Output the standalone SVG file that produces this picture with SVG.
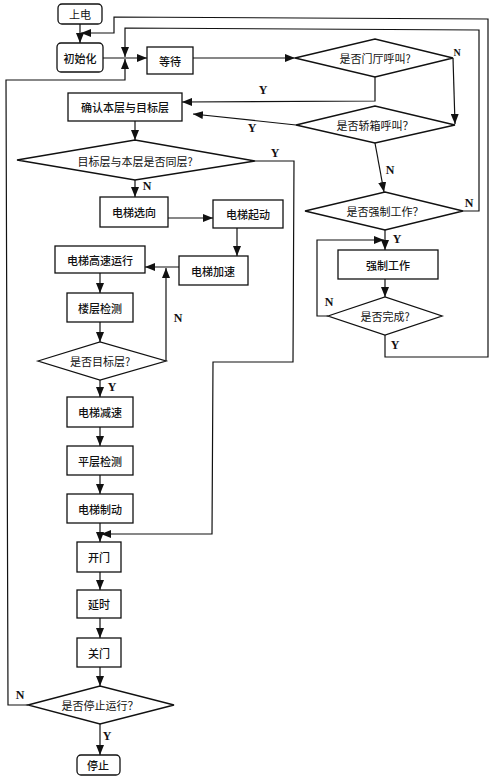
<svg xmlns="http://www.w3.org/2000/svg" width="492" height="780" viewBox="0 0 492 780">
<defs>
<marker id="ah" markerUnits="userSpaceOnUse" markerWidth="10" markerHeight="8" refX="10" refY="4" orient="auto">
<path d="M0,0 L10,4 L0,8 z" fill="#111"/>
</marker>
<style>
.box{fill:#fff;stroke:#111;stroke-width:1.3}
.t{font-family:"Noto Sans CJK SC","Noto Sans",sans-serif;font-size:11px;fill:#111;text-anchor:middle;dominant-baseline:central}
.b{font-weight:500}
.l{font-family:"Liberation Serif",serif;font-size:12px;font-weight:bold;fill:#111;text-anchor:middle;dominant-baseline:central}
.c{fill:none;stroke:#111;stroke-width:1.2}
.c.a{marker-end:url(#ah)}
</style>
</defs>
<rect width="492" height="780" fill="#fff"/>
<g id="connectors">
<path class="c a" d="M80,24 L80,43"/>
<path class="c a" d="M385,335 L385,357 L488,357 L488,19 L114,17 L114,33 L81,33"/>
<path class="c a" d="M103,58 L147,58"/>
<path class="c a" d="M463,211 L479,211 L479,30 L125,28 L125,57"/>
<path class="c a" d="M28,705 L8,705 L6,80 L125,80 L125,59"/>
<path class="c a" d="M193,58 L295,58"/>
<path class="c a" d="M453,58 L455,124"/>
<path class="c a" d="M375,77 L375,101 L182,102"/>
<path class="c a" d="M296,125 L193,114"/>
<path class="c a" d="M375,143 L384,192"/>
<path class="c a" d="M135,121 L135,140"/>
<path class="c a" d="M255,161 L294,161 L293,362 L213,362 L212,534 L101,534"/>
<path class="c a" d="M135,180 L135,197"/>
<path class="c a" d="M168,218 L213,218"/>
<path class="c a" d="M237,228 L237,256"/>
<path class="c a" d="M179,267 L145,267"/>
<path class="c a" d="M100,273 L100,293"/>
<path class="c a" d="M100,322 L100,342"/>
<path class="c a" d="M166,361 L166,268"/>
<path class="c a" d="M100,380 L100,397"/>
<path class="c a" d="M100,427 L100,446"/>
<path class="c a" d="M100,475 L100,494"/>
<path class="c a" d="M100,523 L100,542"/>
<path class="c a" d="M100,572 L100,590"/>
<path class="c a" d="M100,618 L100,638"/>
<path class="c a" d="M100,667 L100,686"/>
<path class="c a" d="M100,724 L100,755"/>
<path class="c a" d="M385,230 L385,250"/>
<path class="c a" d="M385,279 L385,297"/>
<path class="c a" d="M328,316 L317,316 L317,240 L384,240"/>
<text class="l" x="457" y="52" style="font-size:10px">N</text>
<text class="l" x="263" y="90">Y</text>
<text class="l" x="252" y="128">Y</text>
<text class="l" x="390" y="170">N</text>
<text class="l" x="275" y="153">Y</text>
<text class="l" x="147" y="186">N</text>
<text class="l" x="178" y="318">N</text>
<text class="l" x="112" y="387">Y</text>
<text class="l" x="20" y="695">N</text>
<text class="l" x="107" y="736">Y</text>
<text class="l" x="469" y="203">N</text>
<text class="l" x="397" y="239">Y</text>
<text class="l" x="329" y="302">N</text>
<text class="l" x="395" y="345">Y</text>
</g>
<g id="n_power"><rect class="box" x="58" y="4" width="44" height="20" rx="4"/><text class="t" x="80" y="14">上电</text></g>
<g id="n_init"><rect class="box" x="57" y="43" width="46" height="29" rx="4"/><text class="t b" x="80" y="58">初始化</text></g>
<g id="n_wait"><rect class="box" x="147" y="47" width="46" height="27"/><text class="t b" x="170" y="61">等待</text></g>
<g id="d_hall"><polygon class="box" points="295,58 375,39 453,58 375,77"/><text class="t" x="375" y="58">是否门厅呼叫?</text></g>
<g id="d_car"><polygon class="box" points="296,125 375,106 455,125 375,143"/><text class="t" x="375" y="125">是否轿箱呼叫？</text></g>
<g id="n_confirm"><rect class="box" x="68" y="93" width="114" height="28"/><text class="t b" x="125" y="107">确认本层与目标层</text></g>
<g id="d_same"><polygon class="box" points="17,160 135,140 255,161 135,180"/><text class="t" x="135" y="161">目标层与本层是否同层?</text></g>
<g id="n_dir"><rect class="box" x="100" y="197" width="68" height="30"/><text class="t b" x="134" y="212">电梯选向</text></g>
<g id="n_start"><rect class="box" x="213" y="200" width="70" height="28"/><text class="t b" x="248" y="214">电梯起动</text></g>
<g id="n_accel"><rect class="box" x="179" y="256" width="69" height="29"/><text class="t b" x="213" y="271">电梯加速</text></g>
<g id="n_fast"><rect class="box" x="55" y="246" width="90" height="27"/><text class="t b" x="100" y="260">电梯高速运行</text></g>
<g id="n_floor"><rect class="box" x="67" y="293" width="66" height="29"/><text class="t b" x="100" y="308">楼层检测</text></g>
<g id="d_target"><polygon class="box" points="38,361 100,342 166,361 100,380"/><text class="t" x="100" y="361">是否目标层?</text></g>
<g id="n_decel"><rect class="box" x="67" y="397" width="66" height="30"/><text class="t b" x="100" y="412">电梯减速</text></g>
<g id="n_level"><rect class="box" x="67" y="446" width="66" height="29"/><text class="t b" x="100" y="461">平层检测</text></g>
<g id="n_brake"><rect class="box" x="67" y="494" width="66" height="29"/><text class="t b" x="100" y="509">电梯制动</text></g>
<g id="n_open"><rect class="box" x="77" y="542" width="44" height="30"/><text class="t b" x="99" y="557">开门</text></g>
<g id="n_delay"><rect class="box" x="77" y="590" width="44" height="28"/><text class="t b" x="99" y="604">延时</text></g>
<g id="n_close"><rect class="box" x="77" y="638" width="44" height="29"/><text class="t b" x="99" y="653">关门</text></g>
<g id="d_stoprun"><polygon class="box" points="28,705 100,686 174,705 100,724"/><text class="t" x="100" y="705">是否停止运行？</text></g>
<g id="n_stop"><rect class="box" x="77" y="755" width="43" height="20" rx="4"/><text class="t b" x="98" y="765">停止</text></g>
<g id="d_force"><polygon class="box" points="305,211 385,192 463,211 385,230"/><text class="t" x="385" y="211">是否强制工作？</text></g>
<g id="n_force"><rect class="box" x="338" y="250" width="100" height="29"/><text class="t b" x="388" y="265">强制工作</text></g>
<g id="d_done"><polygon class="box" points="328,316 385,297 442,316 385,335"/><text class="t" x="385" y="316">是否完成?</text></g>
</svg>
